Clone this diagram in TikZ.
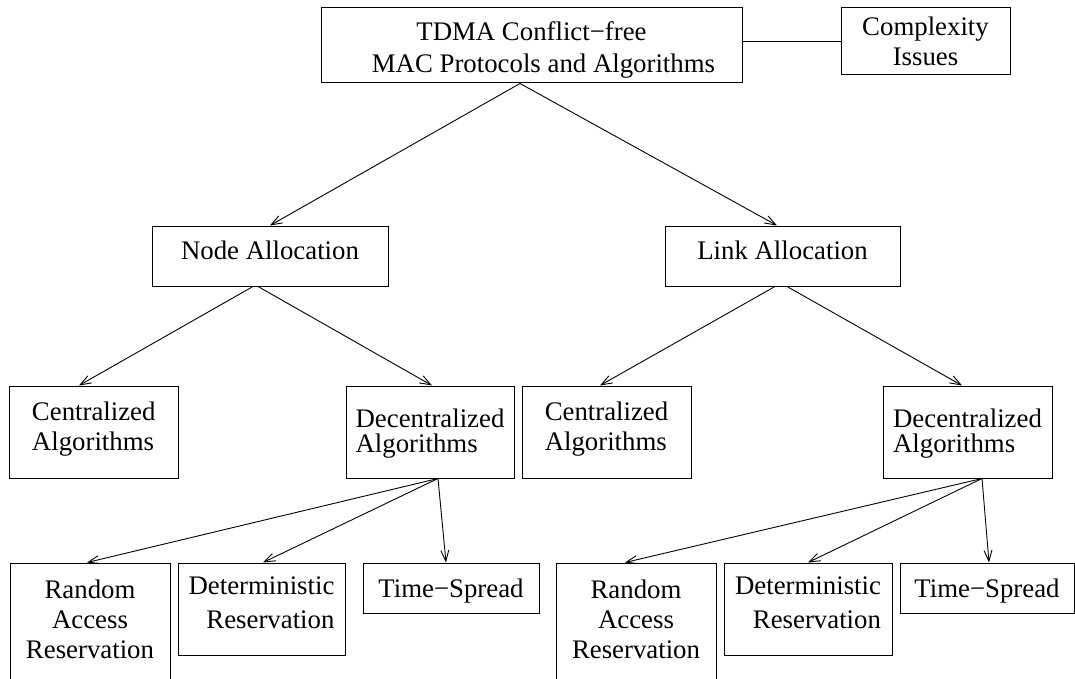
\documentclass[tikz,border=0pt]{standalone}
\usepackage{fontspec}
\setmainfont{Liberation Serif}
\usetikzlibrary{arrows.meta}
\newcommand{\upstrut}[1]{\rule{0pt}{#1}}
\newcommand{\dnstrut}[1]{\rule[-#1]{0pt}{#1}}
\begin{document}
\begin{tikzpicture}[x=1pt,y=-1pt,
  txt/.style={inner sep=0pt, font=\fontsize{26.8}{30}\selectfont},
  box/.style={txt, draw, line width=1pt},
  arr/.style={line width=0.9pt, -{Straight Barb[length=11pt,width=8pt]}},
  conn/.style={line width=0.9pt}]
\clip (0,0) rectangle (1075,679);
% boxes
\node[box, minimum width=421pt, minimum height=75pt, align=center, font=\fontsize{26.8}{32}\selectfont] (root) at (531.5,45.5) {\upstrut{28pt}TDMA Conflict−free\\\hspace*{24pt}MAC Protocols and Algorithms};
\node[box, minimum width=169pt, minimum height=67pt, align=center] (cx) at (925.5,41.5) {Complexity\\Issues};
\node[box, minimum width=236pt, minimum height=60pt] (nalloc) at (270,256) {Node Allocation\dnstrut{12pt}};
\node[box, minimum width=235pt, minimum height=60pt] (lalloc) at (782.5,256) {Link Allocation\dnstrut{12pt}};
\node[box, minimum width=168.5pt, minimum height=92pt, align=left] (cent1) at (93.75,432) {Centralized\\Algorithms\dnstrut{12pt}};
\node[box, minimum width=168pt, minimum height=92pt, align=left, font=\fontsize{26.8}{24.5}\selectfont] (dec1) at (430,432) {\upstrut{22pt}Decentralized\\Algorithms};
\node[box, minimum width=169pt, minimum height=92pt, align=left] (cent2) at (606.5,432) {Centralized\\Algorithms\dnstrut{12pt}};
\node[box, minimum width=169pt, minimum height=92pt, align=left, font=\fontsize{26.8}{24.5}\selectfont] (dec2) at (967.5,432) {\upstrut{22pt}Decentralized\\Algorithms};
\node[box, minimum width=160pt, minimum height=140pt] (ran1) at (90,633) {};
\node[txt, align=center] (ran1t) at (90,619) {Random\\Access\\Reservation};
\node[box, minimum width=167pt, minimum height=92pt, align=right, font=\fontsize{26.8}{34}\selectfont] (det1) at (261.5,609) {Deterministic\\Reservation\dnstrut{12pt}};
\node[box, minimum width=176pt, minimum height=50pt] (ts1) at (451,588) {\upstrut{24pt}Time−Spread};
\node[box, minimum width=160pt, minimum height=140pt] (ran2) at (636,633) {};
\node[txt, align=center] (ran2t) at (636,619) {Random\\Access\\Reservation};
\node[box, minimum width=168pt, minimum height=92pt, align=right, font=\fontsize{26.8}{34}\selectfont] (det2) at (808,609) {Deterministic\\Reservation\dnstrut{12pt}};
\node[box, minimum width=174pt, minimum height=50pt] (ts2) at (987,588) {\upstrut{24pt}Time−Spread};
% connectors
\draw[conn] (root.east |- cx.west) -- (cx.west);
\draw[arr] ([xshift=-11.5pt]root.south) -- (nalloc.north);
\draw[arr] ([xshift=-11.5pt]root.south) -- ([xshift=-5.5pt]lalloc.north);
\draw[arr] ([xshift=-17pt]nalloc.south) -- ([xshift=-14.75pt]cent1.north);
\draw[arr] ([xshift=-12pt]nalloc.south) -- ([xshift=2pt]dec1.north);
\draw[arr] ([xshift=-7.5pt]lalloc.south) -- ([xshift=-6.5pt]cent2.north);
\draw[arr] ([xshift=4.5pt]lalloc.south) -- ([xshift=-5.5pt]dec2.north);
\draw[arr] ([xshift=8pt]dec1.south) -- ([xshift=-3pt]ran1.north);
\draw[arr] ([xshift=8pt]dec1.south) -- ([xshift=1.5pt]det1.north);
\draw[arr] ([xshift=8pt]dec1.south) -- ([xshift=-5pt]ts1.north);
\draw[arr] ([xshift=14.5pt]dec2.south) -- ([xshift=-11pt]ran2.north);
\draw[arr] ([xshift=14.5pt]dec2.south) -- (det2.north);
\draw[arr] ([xshift=14.5pt]dec2.south) -- ([xshift=2pt]ts2.north);
\end{tikzpicture}
\end{document}
